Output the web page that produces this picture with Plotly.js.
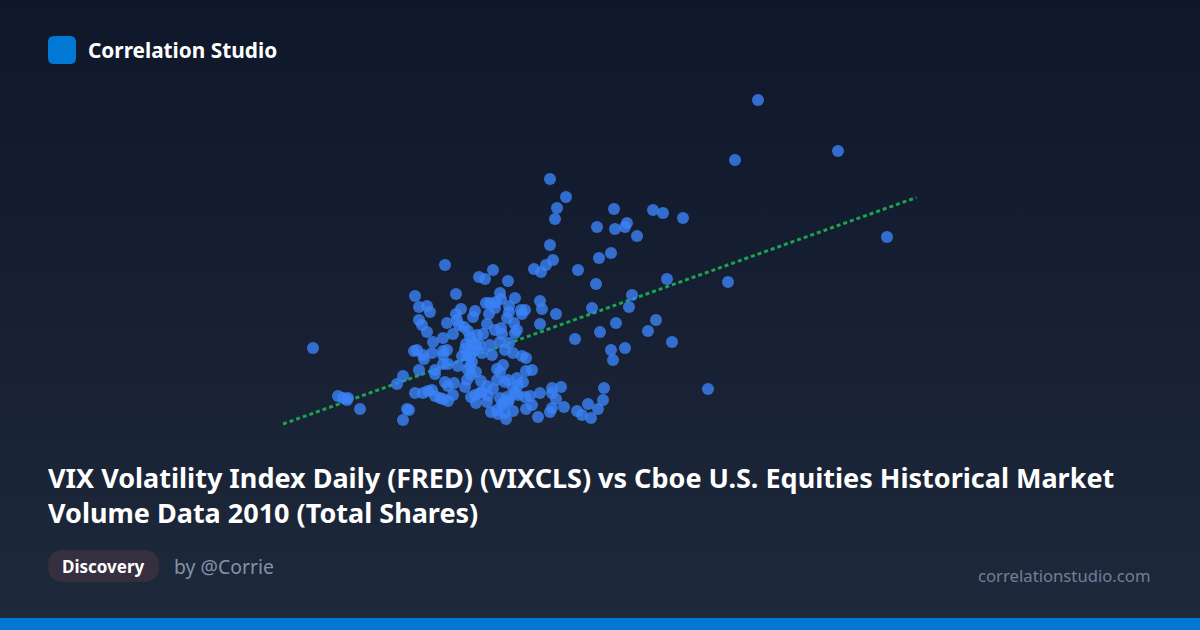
<!DOCTYPE html>
<html>
<head>
<meta charset="utf-8">
<script src="https://cdn.plot.ly/plotly-3.0.1.min.js"></script>
<style>
  html, body { margin: 0; padding: 0; }
  #plot { width: 1200px; height: 630px; background: linear-gradient(180deg, #0f172a 0%, #1e293b 100%); }
</style>
</head>
<body>
<div id="plot"></div>
<script>
// values, no axis is shown so they are estimates
var vix = [37.90,41.90,36.75,44.35,36.40,34.15,35.40,15.65,27.50,28.30,27.85,27.75,30.70,32.65,33.15,29.85,30.75,31.25,31.35,31.85,
  27.50,30.55,29.95,27.65,27.30,26.70,27.05,28.90,29.80,33.35,31.60,31.45,29.60,32.80,32.40,33.60,30.80,30.00,28.75,30.55,
  31.25,30.65,22.25,23.95,24.25,24.65,25.40,20.75,22.80,20.95,21.35,21.50,23.05,22.80,22.35,20.95,21.10,21.35,22.65,22.85,
  22.95,23.20,23.40,23.75,23.65,24.30,24.50,25.00,24.80,25.05,24.75,25.75,25.45,25.45,24.45,24.35,25.35,25.70,26.10,26.25,
  26.05,27.00,27.10,27.80,27.00,25.85,25.75,24.75,25.05,25.10,24.15,23.85,23.50,23.30,23.80,23.75,24.10,24.50,24.60,25.25,
  25.45,25.00,25.65,26.10,26.30,22.15,21.65,22.35,22.15,22.15,20.85,20.70,21.15,21.20,21.60,22.15,22.40,22.90,23.10,23.35,
  23.50,20.95,21.75,21.75,20.15,19.85,22.25,22.40,22.70,23.25,23.35,23.55,23.40,23.80,24.85,25.15,25.00,26.30,26.60,24.85,
  25.25,25.40,24.05,24.35,24.65,25.85,26.15,25.90,20.75,21.15,21.40,21.60,21.75,22.00,22.15,22.40,22.65,23.55,24.00,24.40,
  23.80,24.35,25.00,25.35,25.75,26.25,26.50,27.00,25.40,25.10,26.60,26.30,24.55,24.85,24.90,25.65,25.25,25.30,26.90,27.50,
  27.60,28.20,27.60,27.60,27.80,28.05,29.40,30.20,30.15,29.90,28.85,29.10,29.55,20.35,20.45,20.15,16.90,17.15,17.35,17.40,
  18.00,24.00,23.55,23.25,23.60,24.10,23.75,25.65,25.90,25.45,25.15,23.60,23.50];
var volume = [10.60,9.58,9.40,7.86,6.96,8.24,4.82,5.64,9.02,8.66,8.44,8.22,8.42,8.40,8.34,8.06,8.02,8.06,8.14,7.88,
  7.70,7.54,7.44,7.40,7.30,7.22,7.16,7.20,6.92,7.02,6.70,6.46,6.44,6.20,5.98,5.76,6.14,5.96,5.82,5.60,
  5.64,5.40,7.30,7.06,7.02,7.20,6.98,6.68,6.72,6.46,6.48,6.36,6.42,6.32,6.14,6.20,6.10,5.96,5.92,6.20,
  6.10,6.06,5.98,6.38,6.26,6.54,6.54,6.74,6.56,6.62,6.44,6.64,6.48,6.36,6.32,6.12,6.24,6.14,6.32,6.40,
  6.40,6.58,6.42,6.32,6.12,6.00,5.94,6.00,6.04,5.92,5.92,5.90,5.86,5.72,5.70,5.60,5.54,5.70,5.50,5.60,
  5.74,5.76,5.54,5.48,5.44,5.84,5.76,5.60,5.58,5.50,5.60,5.58,5.50,5.42,5.54,5.32,5.32,5.28,5.48,5.50,
  5.46,5.20,5.20,5.12,5.08,4.92,4.96,4.88,4.94,4.86,5.00,5.10,5.20,5.16,5.22,5.30,5.16,5.18,5.20,5.00,
  4.96,5.00,4.98,4.88,4.82,5.04,4.96,4.90,4.74,4.74,4.78,4.80,4.68,4.64,4.62,4.58,4.70,4.66,4.74,4.68,
  4.54,4.56,4.64,4.66,4.74,4.66,4.68,4.74,4.56,4.50,4.50,4.42,4.36,4.40,4.32,4.38,4.34,4.22,4.26,4.36,
  4.44,4.46,4.84,4.74,4.62,4.86,4.52,4.84,4.60,4.42,4.38,4.30,4.24,4.42,4.40,4.20,4.68,4.64,4.60,4.64,
  4.42,5.70,5.60,5.62,5.76,4.76,4.70,4.84,4.70,4.60,4.54,5.36,5.28];
var trendX = [14.15, 45.82];
var trendY = [4.12, 8.65];

var titleText = "VIX Volatility Index Daily (FRED) (VIXCLS) vs Cboe U.S. Equities Historical Market<br>Volume Data 2010 (Total Shares)";
var fontName = "Noto Sans";

// rounded box in page pixels, as a path in paper units
function roundBox(x0, y0, x1, y1, r) {
  var px = function (v) { return (v / 1200).toFixed(5); };
  var py = function (v) { return (1 - v / 630).toFixed(5); };
  return "M" + px(x0 + r) + "," + py(y0) + " L" + px(x1 - r) + "," + py(y0) +
    " Q" + px(x1) + "," + py(y0) + " " + px(x1) + "," + py(y0 + r) +
    " L" + px(x1) + "," + py(y1 - r) +
    " Q" + px(x1) + "," + py(y1) + " " + px(x1 - r) + "," + py(y1) +
    " L" + px(x0 + r) + "," + py(y1) +
    " Q" + px(x0) + "," + py(y1) + " " + px(x0) + "," + py(y1 - r) +
    " L" + px(x0) + "," + py(y0 + r) +
    " Q" + px(x0) + "," + py(y0) + " " + px(x0 + r) + "," + py(y0) + " Z";
}

function label(text, x, y, size, color, weight, anchor) {
  return {
    text: text, xref: "paper", yref: "paper", x: x / 1200, y: 1 - y / 630,
    xanchor: anchor || "left", yanchor: "middle", showarrow: false,
    font: { family: fontName, size: size, color: color, weight: weight }
  };
}

var trend = {
  x: trendX, y: trendY, mode: "lines", type: "scatter", hoverinfo: "skip",
  line: { color: "#1aa350", width: 3, dash: "4px,3px" }
};
var points = {
  x: vix, y: volume, mode: "markers", type: "scatter",
  marker: { color: "#3b82f6", size: 12, opacity: 0.8, line: { width: 0 } }
};

var layout = {
  width: 1200, height: 630,
  margin: { l: 0, r: 0, t: 0, b: 0 },
  paper_bgcolor: "rgba(0,0,0,0)", plot_bgcolor: "rgba(0,0,0,0)",
  showlegend: false,
  xaxis: { range: [0, 60], visible: false, fixedrange: true },
  yaxis: { range: [0, 12.6], visible: false, fixedrange: true },
  title: {
    text: titleText, x: 48 / 1200, xref: "paper", xanchor: "left",
    y: 1 - 487.5 / 630, yref: "paper", yanchor: "middle",
    font: { family: fontName, size: 27, color: "#ffffff", weight: 700 }
  },
  shapes: [
    { type: "path", xref: "paper", yref: "paper", path: roundBox(48, 36, 76, 64, 6), fillcolor: "#0078d4", line: { width: 0 } },
    { type: "path", xref: "paper", yref: "paper", path: roundBox(48, 550, 159, 582, 16), fillcolor: "#362f3f", line: { width: 0 } },
    { type: "rect", xref: "paper", yref: "paper", x0: 0, x1: 1, y0: 0, y1: 12 / 630, fillcolor: "#0078d4", line: { width: 0 } }
  ],
  annotations: [
    label("Correlation Studio", 86, 50, 20.8, "#ffffff", 700),
    label("Discovery", 60, 566, 17, "#ffffff", 700),
    label("by @Corrie", 172, 566, 19.4, "#8492a6", 400),
    label("correlationstudio.com", 1153, 575, 16.7, "#718096", 400, "right")
  ]
};

Plotly.newPlot("plot", [trend, points], layout, { displayModeBar: false, staticPlot: true });
</script>
</body>
</html>
